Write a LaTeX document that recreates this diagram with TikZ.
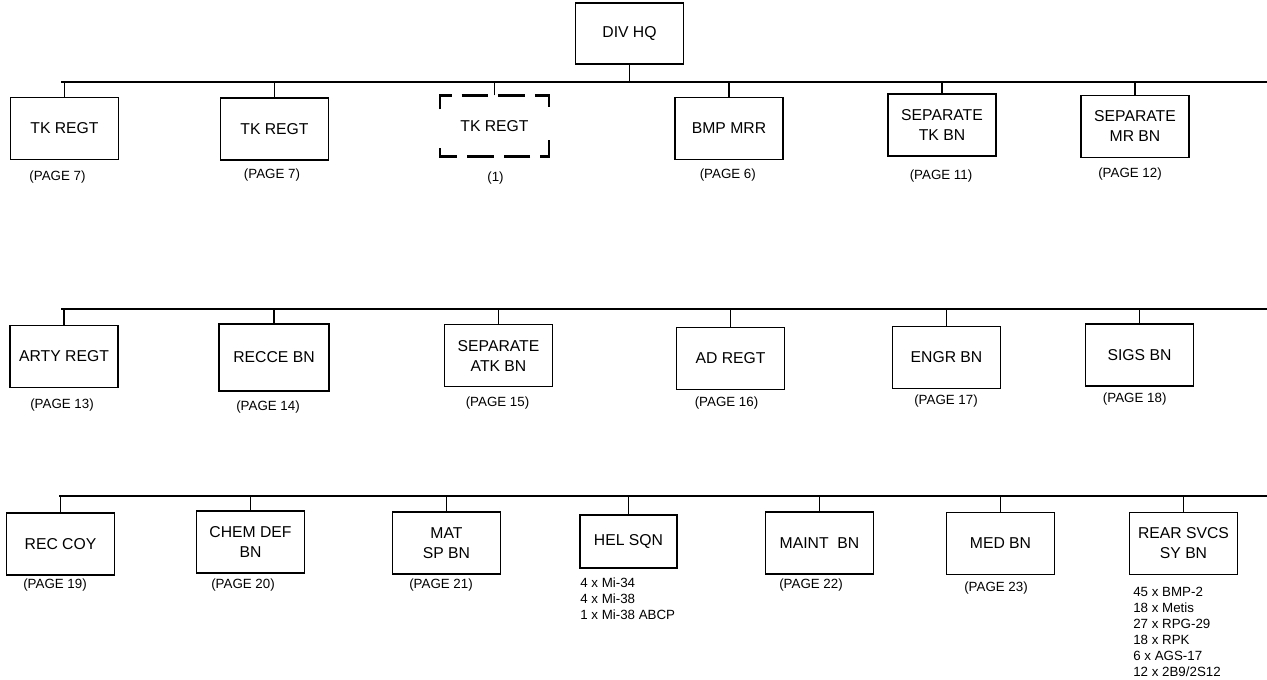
\documentclass[tikz,border=0pt]{standalone}
\usepackage{fontspec}
\setmainfont{Liberation Sans}
\usepackage{tikz}
\tikzset{
  unit/.style={draw, line width=1pt, minimum width=81pt, minimum height=46.5pt,
    inner sep=0pt, align=center, font=\fontsize{11.8}{15}\selectfont},
  pagenote/.style={inner sep=0pt, font=\fontsize{10}{12}\selectfont},
  kitlist/.style={inner sep=0pt, anchor=north west, align=left, font=\fontsize{10}{12}\selectfont},
  link/.style={line width=0.8pt},
  tkdash/.style={line width=1.8pt, dash pattern=on 19pt off 7.5pt on 20pt off 7.5pt on 20pt off 7.5pt on 19pt off 25pt, dash phase=113pt}
}
\begin{document}
\begin{tikzpicture}[x=0.75pt,y=-0.75pt]
      \useasboundingbox (0,0) rectangle (1267,679);
      \node[unit, minimum height=45.75pt] (divhq) at (629.5,33.5) {DIV HQ};

      \coordinate (bus1w) at (61,82);
      \coordinate (bus1e) at (1267,82);
      \coordinate (bus2w) at (61,309);
      \coordinate (bus2e) at (1267,309);
      \coordinate (bus3w) at (59,496);
      \coordinate (bus3e) at (1267,496);

      \node[unit] (tk1) at (64.5,128.5) {TK REGT};
      \node[unit] (tk2) at (274.5,129) {TK REGT};
      \node[unit, draw=none, minimum width=80.5pt, minimum height=45pt] (tk3) at (494.5,126) {TK REGT};
      \node[unit] (bmp) at (729,128.5) {BMP MRR};
      \node[unit] (septk) at (942,125) {SEPARATE\\TK BN};
      \node[unit] (sepmr) at (1135,126.5) {SEPARATE\\MR BN};
      \node[pagenote] (pg1) at (57.5,177) {(PAGE 7)};
      \node[pagenote] (pg2) at (272,175) {(PAGE 7)};
      \node[pagenote] (pg3) at (495.5,178) {(1)};
      \node[pagenote] (pg4) at (727.8,175) {(PAGE 6)};
      \node[pagenote] (pg5) at (941,176) {(PAGE 11)};
      \node[pagenote] (pg6) at (1130,174) {(PAGE 12)};

      \node[unit] (arty) at (64,356.5) {ARTY REGT};
      \node[unit, minimum width=82.5pt, minimum height=50.25pt] (recce) at (274,357.5) {RECCE BN};
      \node[unit] (sepatk) at (498.5,355.5) {SEPARATE\\ATK BN};
      \node[unit] (ad) at (730.5,358.5) {AD REGT};
      \node[unit] (engr) at (946.5,357.5) {ENGR BN};
      \node[unit] (sigs) at (1139.5,355) {SIGS BN};
      \node[pagenote] (pg7) at (62,405) {(PAGE 13)};
      \node[pagenote] (pg8) at (268,407) {(PAGE 14)};
      \node[pagenote] (pg9) at (497.5,403) {(PAGE 15)};
      \node[pagenote] (pg10) at (726.5,403) {(PAGE 16)};
      \node[pagenote] (pg11) at (946,401) {(PAGE 17)};
      \node[pagenote] (pg12) at (1134.7,399) {(PAGE 18)};

      \node[unit] (rec) at (60.5,544) {REC COY};
      \node[unit] (chem) at (250.5,542) {CHEM DEF\\BN};
      \node[unit] (mat) at (446.5,543) {MAT\\SP BN};
      \node[unit, minimum width=72.75pt, minimum height=39.75pt] (hel) at (628.5,541.5) {HEL SQN};
      \node[unit] (maint) at (819.5,543) {MAINT~~BN};
      \node[unit] (med) at (1000.5,543.5) {MED BN};
      \node[unit] (rear) at (1183.5,543.5) {REAR SVCS\\SY BN};
      \node[pagenote] (pg13) at (55,585) {(PAGE 19)};
      \node[pagenote] (pg14) at (243,585) {(PAGE 20)};
      \node[pagenote] (pg15) at (441,585) {(PAGE 21)};
      \node[pagenote] (pg16) at (811,585) {(PAGE 22)};
      \node[pagenote] (pg17) at (996,588) {(PAGE 23)};
      \node[kitlist] (helkit) at (580,578) {4 x Mi-34\\4 x Mi-38\\1 x Mi-38 ABCP};
      \node[kitlist] (rearkit) at (1133,587) {45 x BMP-2\\18 x Metis\\27 x RPG-29\\18 x RPK\\6 x AGS-17\\12 x 2B9/2S12};

      \draw[tkdash] (tk3.west) |- (tk3.north east) |- (tk3.south west) -- cycle;

      \draw[link] (bus1w) -- (bus1e);
      \draw[link] (bus2w) -- (bus2e);
      \draw[link] (bus3w) -- (bus3e);
      \draw[link] (divhq.south) -- (divhq.south |- bus1w);
      \foreach \n in {tk1,tk2,tk3,bmp,septk,sepmr}
        \draw[link] (\n.north) -- (\n.north |- bus1w);
      \foreach \n in {arty,recce,sepatk,ad,engr,sigs}
        \draw[link] (\n.north) -- (\n.north |- bus2w);
      \foreach \n in {rec,chem,mat,hel,maint,med,rear}
        \draw[link] (\n.north) -- (\n.north |- bus3w);
    \end{tikzpicture}
\end{document}
